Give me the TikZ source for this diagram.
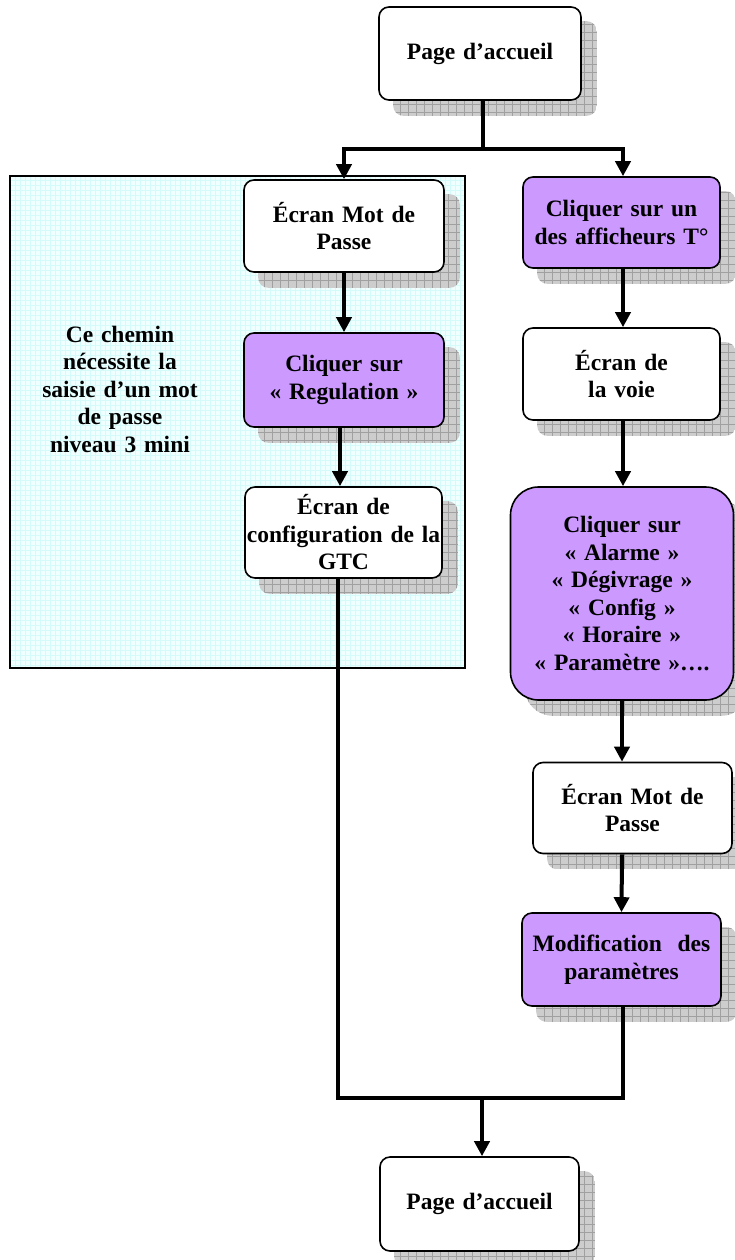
\documentclass[tikz,border=0pt]{standalone}
\usepackage{fontspec}
\setmainfont{Liberation Serif}
\usetikzlibrary{arrows.meta,calc}
\pgfdeclarelayer{bg}
\pgfdeclarelayer{shadowlayer}
\pgfsetlayers{bg,shadowlayer,main}
\definecolor{purplebox}{RGB}{204,153,255}
\definecolor{shadowfill}{RGB}{205,205,205}
\definecolor{shadowgrid}{RGB}{160,160,160}
\definecolor{panelfill}{RGB}{240,255,255}
\definecolor{panelgrid}{RGB}{212,250,250}
\tikzset{
  boxbase/.style={draw=black, line width=1.6pt, rounded corners=10pt, minimum width=200pt, minimum height=92pt, text width=194pt, align=center, inner sep=1pt, font=\fontsize{23.5}{27.5}\selectfont\bfseries},
  whitebox/.style={boxbase, fill=white},
  purplebox/.style={boxbase, fill=purplebox},
  conn/.style={line width=4pt, line join=miter},
  arr/.style={conn, -{Triangle[width=15pt,length=15pt]}},
  note/.style={align=center, text width=190pt, font=\fontsize{23.5}{27.5}\selectfont\bfseries}
}
\newcommand{\boxshadow}[2][10pt]{%
  \begin{pgfonlayer}{shadowlayer}
    \begin{scope}
      \clip[rounded corners=#1] ($(#2.south west)+(15,15)$) rectangle ($(#2.north east)+(15,15)$);
      \fill[shadowfill] ($(#2.south west)+(15,15)$) rectangle ($(#2.north east)+(15,15)$);
      \draw[shadowgrid, line width=0.7pt, step=8pt] ($(#2.south west)+(15,15)$) grid ($(#2.north east)+(15,15)$);
    \end{scope}
  \end{pgfonlayer}}
\begin{document}
\begin{tikzpicture}[x=1pt,y=-1pt]
\useasboundingbox (0,0) rectangle (735,1260);
% panel
\begin{pgfonlayer}{bg}
  \fill[panelfill] (10,176) rectangle (465,668);
  \begin{scope}
    \clip (10,176) rectangle (465,668);
    \draw[panelgrid, line width=0.5pt, step=5pt] (10,176) grid (465,668);
  \end{scope}
  \draw[line width=1.2pt] (10,176) rectangle (465,668);
\end{pgfonlayer}
% nodes
\node[whitebox, minimum width=202pt, minimum height=93pt] (top) at (480,53.5) {Page d’accueil};
\node[whitebox] (ecran1) at (344,226) {Écran Mot de\\Passe};
\node[purplebox, minimum height=94pt] (regul) at (344,380) {Cliquer sur\\« Regulation »};
\node[whitebox, minimum width=197pt, minimum height=91pt] (gtc) at (343.5,532.5) {Écran de\\configuration de la\\GTC};
\node[note] (txt) at (120,389) {Ce chemin\\nécessite la\\saisie d’un mot\\de passe\\niveau 3 mini};
\node[purplebox, minimum width=197pt, minimum height=91pt] (aff) at (621.5,222.5) {Cliquer sur un\\des afficheurs T°};
\node[whitebox, minimum width=197pt] (voie) at (621.5,374) {Écran de\\la voie};
\node[purplebox, rounded corners=28pt, minimum width=223pt, minimum height=213pt, text width=217pt] (big) at (622,593.5) {Cliquer sur\\« Alarme »\\« Dégivrage »\\« Config »\\« Horaire »\\« Paramètre »….};
\node[whitebox, minimum width=199pt, minimum height=91pt] (ecran2) at (632.5,808) {Écran Mot de\\Passe};
\node[purplebox, minimum width=199pt, minimum height=93pt] (modif) at (621.5,959.5) {Modification\ \ des\\paramètres};
\node[whitebox, minimum width=199pt, minimum height=94pt] (bottom) at (479.5,1204) {Page d’accueil};
% shadows
\boxshadow{top}
\boxshadow{ecran1}
\boxshadow{regul}
\boxshadow{gtc}
\boxshadow{aff}
\boxshadow{voie}
\boxshadow[28pt]{big}
\boxshadow{ecran2}
\boxshadow{modif}
\boxshadow{bottom}
% connectors
\coordinate (j1) at (483,149);
\coordinate (j2) at (482,1098);
\coordinate (jl) at (344,149);
\coordinate (jr) at (623,149);
\draw[conn] (top.south -| j1) -- (j1);
\draw[conn] ([xshift=-2pt]jl) -- ([xshift=2pt]jr);
\draw[arr] (jl) -- (ecran1.north);
\draw[arr] (jr) -- (jr |- aff.north);
\draw[arr] (ecran1.south) -- (regul.north);
\draw[arr] ([xshift=-4pt]regul.south) -- ([xshift=-4pt]regul.south |- gtc.north);
\draw[arr] ([xshift=1.5pt]aff.south) -- ([xshift=1.5pt]aff.south |- voie.north);
\draw[arr] ([xshift=1.5pt]voie.south) -- ([xshift=1.5pt]voie.south |- big.north);
\draw[arr] (big.south) -- (big.south |- ecran2.north);
\draw[arr] (big.south |- ecran2.south) -- (modif.north);
\draw[conn] ([xshift=-6pt]gtc.south) |- (j2);
\draw[conn] ([xshift=1.5pt]modif.south) |- (j2);
\draw[arr] (j2) -- (bottom.north -| j2);
\end{tikzpicture}
\end{document}
